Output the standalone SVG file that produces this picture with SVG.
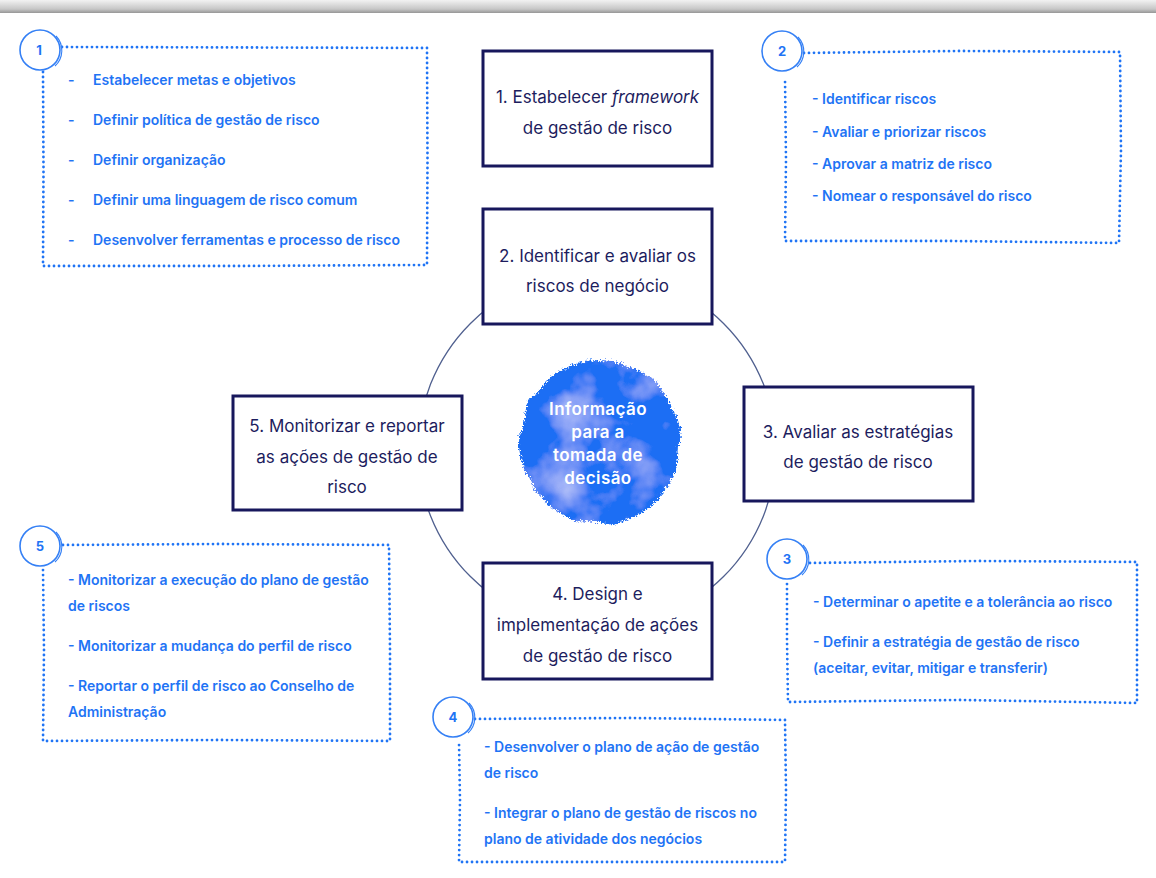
<svg xmlns="http://www.w3.org/2000/svg" width="1156" height="878" viewBox="0 0 1156 878">
<style>
.main{fill:#fff;stroke:#17175c;stroke-width:3}
.mt{font-family:Inter,"Liberation Sans",sans-serif;font-size:17px;fill:#1d1d5e;text-anchor:middle}
.bt{font-family:Inter,"Liberation Sans",sans-serif;font-size:14px;font-weight:600;fill:#1f74f5}
.num{font-family:Inter,"Liberation Sans",sans-serif;font-size:13px;font-weight:700;fill:#1f74f5;text-anchor:middle}
.dot{fill:none;stroke:#1f74f5;stroke-width:2.8;stroke-linecap:round;stroke-dasharray:0 5}
.nc{fill:#fff;stroke:#3580f5;stroke-width:1.6}
.nc2{fill:none;stroke:#3580f5;stroke-width:1.1}
.ct{font-family:Inter,"Liberation Sans",sans-serif;font-size:17px;font-weight:600;fill:#fff;text-anchor:middle;letter-spacing:0.4px}
</style>
<defs>
<linearGradient id="topband" x1="0" y1="0" x2="0" y2="1">
<stop offset="0" stop-color="#f2f2f2"/>
<stop offset="0.7" stop-color="#c6c6c6"/>
<stop offset="1" stop-color="#969696"/>
</linearGradient>
<filter id="rough" x="-25%" y="-25%" width="150%" height="150%">
<feTurbulence type="fractalNoise" baseFrequency="0.03" numOctaves="3" seed="3" result="n"/>
<feDisplacementMap in="SourceGraphic" in2="n" scale="10" xChannelSelector="R" yChannelSelector="G" result="d0"/>
<feTurbulence type="fractalNoise" baseFrequency="0.6" numOctaves="2" seed="11" result="f"/>
<feDisplacementMap in="d0" in2="f" scale="7" xChannelSelector="R" yChannelSelector="G" result="d"/>
<feTurbulence type="fractalNoise" baseFrequency="0.02" numOctaves="4" seed="21" result="p"/>
<feColorMatrix in="p" type="matrix" values="0 0 0 0 1  0 0 0 0 1  0 0 0 0 1  0.9 0 0 0 -0.42" result="patch"/>
<feComposite in="patch" in2="d" operator="in" result="p2"/>
<feMerge><feMergeNode in="d"/><feMergeNode in="p2"/></feMerge>
</filter>
</defs>
<rect x="0" y="0" width="1156" height="878" fill="#fff"/>
<rect x="0" y="0" width="1156" height="13" fill="url(#topband)"/>

<g id="connectors">
<circle cx="597" cy="450" r="179" fill="none" stroke="#50608f" stroke-width="1.3"/>
</g>

<g id="center">
<circle cx="599" cy="442" r="81" fill="#1b6ef4" filter="url(#rough)"/>
<text class="ct" x="598" y="415">Informação</text>
<text class="ct" x="598" y="438">para a</text>
<text class="ct" x="598" y="461">tomada de</text>
<text class="ct" x="598" y="484">decisão</text>
</g>

<g id="step1">
<rect class="main" x="483" y="51" width="229" height="115"/>
<text class="mt" x="597.5" y="103">1. Estabelecer <tspan font-style="italic">framework</tspan></text>
<text class="mt" x="597.5" y="134">de gestão de risco</text>
</g>
<g id="step2">
<rect class="main" x="483" y="209" width="229" height="115"/>
<text class="mt" x="597.5" y="262">2. Identificar e avaliar os</text>
<text class="mt" x="597.5" y="292">riscos de negócio</text>
</g>
<g id="step3">
<rect class="main" x="744" y="387" width="229" height="114"/>
<text class="mt" x="858" y="438">3. Avaliar as estratégias</text>
<text class="mt" x="858" y="468">de gestão de risco</text>
</g>
<g id="step4">
<rect class="main" x="483" y="563" width="229" height="116"/>
<text class="mt" x="597.5" y="600">4. Design e</text>
<text class="mt" x="597.5" y="631">implementação de ações</text>
<text class="mt" x="597.5" y="662">de gestão de risco</text>
</g>
<g id="step5">
<rect class="main" x="233" y="396" width="229" height="114"/>
<text class="mt" x="347" y="432">5. Monitorizar e reportar</text>
<text class="mt" x="347" y="463">as ações de gestão de</text>
<text class="mt" x="347" y="493">risco</text>
</g>

<g id="note1">
<path class="dot" d="M62 47 L250 47.5 L427 48 L427.5 160 L427 265 L240 266 L43 266 L43.5 170 L43 71"/>
<circle class="nc" cx="40" cy="50" r="20"/>
<path class="nc2" d="M56 36 A21 21 0 0 1 55 66"/>
<text class="num" x="39" y="55">1</text>
<text class="bt" x="68" y="85">-</text><text class="bt" x="93" y="85">Estabelecer metas e objetivos</text>
<text class="bt" x="68" y="125">-</text><text class="bt" x="93" y="125">Definir política de gestão de risco</text>
<text class="bt" x="68" y="165">-</text><text class="bt" x="93" y="165">Definir organização</text>
<text class="bt" x="68" y="205">-</text><text class="bt" x="93" y="205">Definir uma linguagem de risco comum</text>
<text class="bt" x="68" y="245">-</text><text class="bt" x="93" y="245">Desenvolver ferramentas e processo de risco</text>
</g>

<g id="note2">
<path class="dot" d="M804 53 L960 51 L1120 52 L1121 150 L1119 243 L950 241 L785 241 L786 160 L785 78"/>
<circle class="nc" cx="782" cy="51" r="20"/>
<path class="nc2" d="M798 37 A21 21 0 0 1 797 67"/>
<text class="num" x="782" y="56">2</text>
<text class="bt" x="812" y="104">- Identificar riscos</text>
<text class="bt" x="812" y="137">- Avaliar e priorizar riscos</text>
<text class="bt" x="812" y="169">- Aprovar a matriz de risco</text>
<text class="bt" x="812" y="201">- Nomear o responsável do risco</text>
</g>

<g id="note3">
<path class="dot" d="M810 563 L980 561 L1137 562 L1137 640 L1137 703 L960 700 L788 702 L787 640 L787 584"/>
<circle class="nc" cx="787" cy="559" r="20"/>
<path class="nc2" d="M803 545 A21 21 0 0 1 802 575"/>
<text class="num" x="787" y="564">3</text>
<text class="bt" x="813" y="607">- Determinar o apetite e a tolerância ao risco</text>
<text class="bt" x="813" y="647">- Definir a estratégia de gestão de risco</text>
<text class="bt" x="813" y="673">(aceitar, evitar, mitigar e transferir)</text>
</g>

<g id="note4">
<path class="dot" d="M475 719 L630 718 L785 720 L786 790 L785 862 L620 862 L459 862 L460 800 L459 742"/>
<circle class="nc" cx="453" cy="717" r="20"/>
<path class="nc2" d="M469 703 A21 21 0 0 1 468 733"/>
<text class="num" x="453" y="722">4</text>
<text class="bt" x="484" y="752">- Desenvolver o plano de ação de gestão</text>
<text class="bt" x="484" y="778">de risco</text>
<text class="bt" x="484" y="818">- Integrar o plano de gestão de riscos no</text>
<text class="bt" x="484" y="844">plano de atividade dos negócios</text>
</g>

<g id="note5">
<path class="dot" d="M63 545 L220 544 L389 545 L390 650 L390 741 L220 740 L43 741 L44 650 L43 570"/>
<circle class="nc" cx="40" cy="546" r="20"/>
<path class="nc2" d="M56 532 A21 21 0 0 1 55 562"/>
<text class="num" x="40" y="551">5</text>
<text class="bt" x="68" y="585">- Monitorizar a execução do plano de gestão</text>
<text class="bt" x="68" y="611">de riscos</text>
<text class="bt" x="68" y="651">- Monitorizar a mudança do perfil de risco</text>
<text class="bt" x="68" y="691">- Reportar o perfil de risco ao Conselho de</text>
<text class="bt" x="68" y="717">Administração</text>
</g>
</svg>
